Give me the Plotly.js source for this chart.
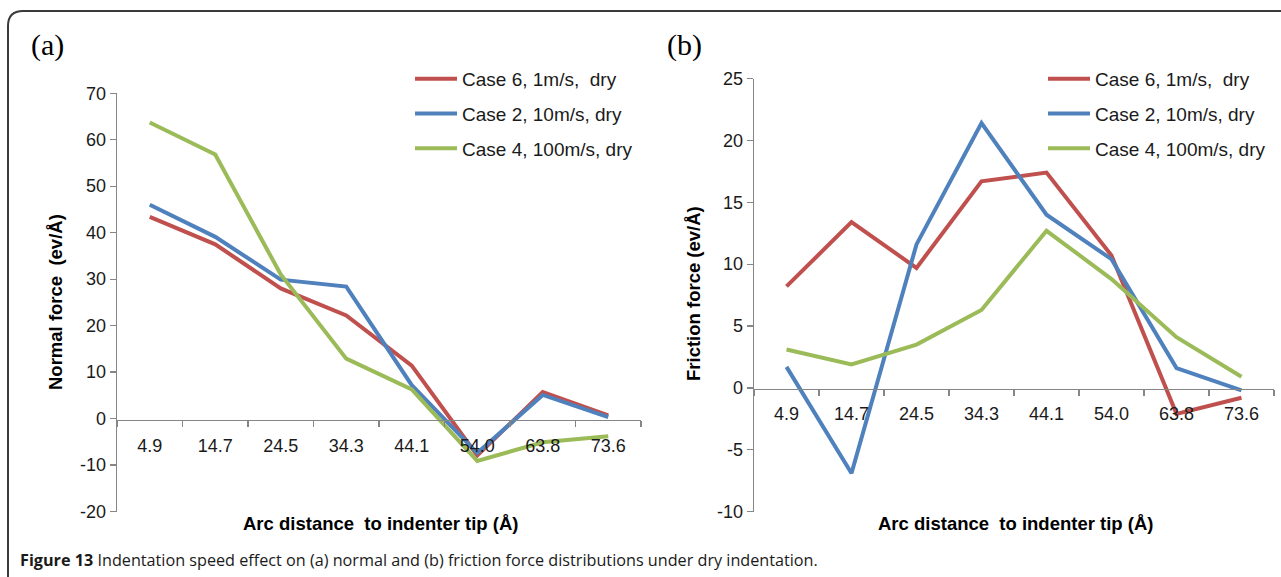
<!DOCTYPE html>
<html>
<head>
<meta charset="utf-8">
<script src="https://cdn.plot.ly/plotly-3.0.1.min.js"></script>
<style>
  html, body { margin: 0; padding: 0; background: #fff; }
  #chart { width: 1281px; height: 577px; }
</style>
</head>
<body>
<div id="chart"></div>
<script>
// ---- data ----
const categories = ['4.9', '14.7', '24.5', '34.3', '44.1', '54.0', '63.8', '73.6'];
const seriesNames = ['Case 6, 1m/s,  dry', 'Case 2, 10m/s, dry', 'Case 4, 100m/s, dry'];

// (a) Normal force (ev/Å)
const normalCase6 = [43.4, 37.5, 28.0, 22.2, 11.4, -7.9, 5.7, 0.7];
const normalCase2 = [46.0, 39.1, 29.9, 28.4, 7.2, -7.4, 5.1, 0.3];
const normalCase4 = [63.7, 56.8, 31.0, 12.9, 6.3, -9.1, -5.1, -3.8];

// (b) Friction force (ev/Å)
const frictionCase6 = [8.2, 13.4, 9.7, 16.7, 17.4, 10.7, -2.1, -0.8];
const frictionCase2 = [1.7, -6.9, 11.6, 21.4, 14.0, 10.4, 1.6, -0.2];
const frictionCase4 = [3.1, 1.9, 3.5, 6.3, 12.7, 8.8, 4.1, 0.9];

// y tick labels
const normalTickVals = [-20, -10, 0, 10, 20, 30, 40, 50, 60, 70];
const normalTickText = ['-20', '-10', '0', '10', '20', '30', '40', '50', '60', '70'];
const frictionTickVals = [-10, -5, 0, 5, 10, 15, 20, 25];
const frictionTickText = ['-10', '-5', '0', '5', '10', '15', '20', '25'];

const colors = ['#C0504D', '#4F81BD', '#9BBB59'];

// ---- layout constants ----
const W = 1281, H = 577;
const px = v => v / W;
const py = v => 1 - v / H;

const tickFont = { family: 'Liberation Sans, Arial, sans-serif', size: 18, color: '#1a1a1a' };
const legendFont = { family: 'Liberation Sans, Arial, sans-serif', size: 19, color: '#1a1a1a' };
const titleFont = { family: 'Liberation Sans, Arial, sans-serif', size: 18.5, color: '#000', weight: 'bold' };
const axisGray = '#868686';

function mk(y, name, i, xa, ya, lg) {
  return {
    x: categories, y: y, name: name, type: 'scatter', mode: 'lines',
    line: { color: colors[i], width: 4 },
    xaxis: xa, yaxis: ya, legend: lg, legendgroup: lg + i, showlegend: true,
    hoverinfo: 'x+y+name'
  };
}

const data = [
  mk(normalCase6, seriesNames[0], 0, 'x', 'y', 'legend'),
  mk(normalCase2, seriesNames[1], 1, 'x', 'y', 'legend'),
  mk(normalCase4, seriesNames[2], 2, 'x', 'y', 'legend'),
  mk(frictionCase6, seriesNames[0], 0, 'x2', 'y2', 'legend2'),
  mk(frictionCase2, seriesNames[1], 1, 'x2', 'y2', 'legend2'),
  mk(frictionCase4, seriesNames[2], 2, 'x2', 'y2', 'legend2')
];

function xAxis(dom, pos) {
  return {
    type: 'category', domain: dom, range: [-0.5, 7.5],
    anchor: 'free', position: pos,
    showline: true, linecolor: axisGray, linewidth: 1.3,
    ticks: 'outside', tickson: 'boundaries', ticklen: 6, tickcolor: axisGray, tickwidth: 1.3,
    showgrid: false, zeroline: false, tickfont: tickFont, ticklabelstandoff: 9,
    fixedrange: true
  };
}
function yAxis(dom, range, vals, text, anchorX) {
  return {
    domain: dom, range: range, tickmode: 'array', tickvals: vals, ticktext: text, anchor: anchorX,
    showline: true, linecolor: axisGray, linewidth: 1.3,
    ticks: 'outside', ticklen: 6, tickcolor: axisGray, tickwidth: 1.3,
    showgrid: false, zeroline: false, tickfont: tickFont, fixedrange: true
  };
}

const yBottom = py(511.6);
function ann(text, x, y, font, extra) {
  return Object.assign({ text: text, xref: 'paper', yref: 'paper', x: px(x), y: py(y),
    xanchor: 'center', yanchor: 'middle', showarrow: false, font: font }, extra || {});
}
const serif = { family: 'Liberation Serif, Times New Roman, serif', size: 30, color: '#000' };

const layout = {
  width: W, height: H,
  margin: { l: 0, r: 0, t: 0, b: 0, pad: 0 },
  paper_bgcolor: '#fff', plot_bgcolor: 'rgba(0,0,0,0)',
  showlegend: true,
  xaxis: xAxis([px(117), px(641)], py(419.6)),
  yaxis: yAxis([yBottom, py(93.2)], [-20, 70], normalTickVals, normalTickText, 'x'),
  xaxis2: xAxis([px(754), px(1274)], py(388.5)),
  yaxis2: yAxis([yBottom, py(78.6)], [-10, 25], frictionTickVals, frictionTickText, 'x2'),
  legend: {
    x: px(410), y: py(60), xanchor: 'left', yanchor: 'top',
    font: legendFont, bgcolor: 'rgba(0,0,0,0)', traceorder: 'grouped', tracegroupgap: 7,
    itemwidth: 42
  },
  legend2: {
    x: px(1043), y: py(60), xanchor: 'left', yanchor: 'top',
    font: legendFont, bgcolor: 'rgba(0,0,0,0)', traceorder: 'grouped', tracegroupgap: 7,
    itemwidth: 42
  },
  annotations: [
    ann('(a)', 47, 45, serif),
    ann('(b)', 684, 45, serif),
    ann('Normal force  (ev/Å)', 55, 302, titleFont, { textangle: -90 }),
    ann('Friction force (ev/Å)', 693, 294, titleFont, { textangle: -90 }),
    ann('Arc distance  to indenter tip (Å)', 380, 523.5, titleFont),
    ann('Arc distance  to indenter tip (Å)', 1015, 523.5, titleFont),
    ann('<b>Figure 13</b> Indentation speed effect on (a) normal and (b) friction force distributions under dry indentation.',
      18, 560, { family: 'Open Sans, Noto Sans, sans-serif', size: 16.2, color: '#1a1a1a' }, { xanchor: 'left' })
  ],
  shapes: [
    { type: 'path', xref: 'paper', yref: 'paper',
      path: 'M ' + px(8) + ',' + py(577) + ' L ' + px(8) + ',' + py(26) +
            ' Q ' + px(8) + ',' + py(11) + ' ' + px(23) + ',' + py(11) +
            ' L ' + px(1281) + ',' + py(11),
      line: { color: '#3a3a3a', width: 2 } }
  ]
};

Plotly.newPlot('chart', data, layout, { displayModeBar: false, staticPlot: true });
</script>
</body>
</html>
